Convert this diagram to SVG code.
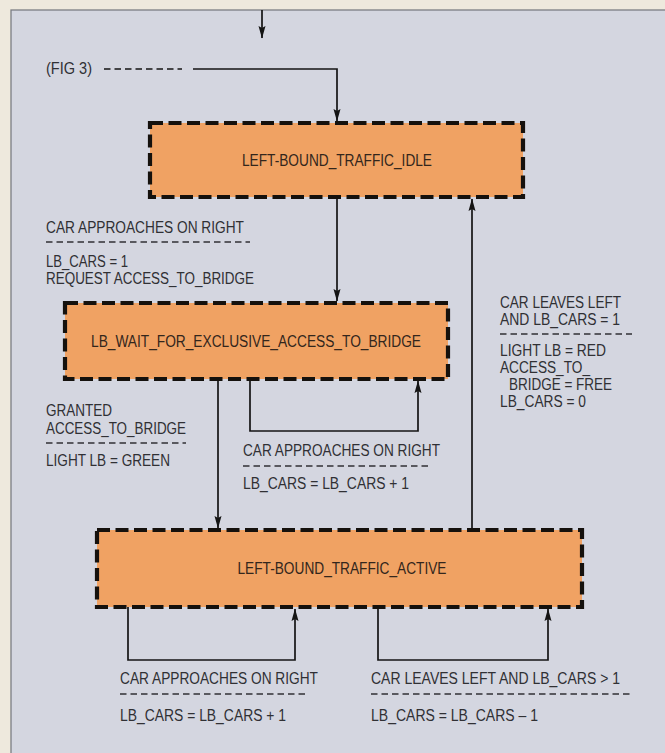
<svg xmlns="http://www.w3.org/2000/svg" width="665" height="753" viewBox="0 0 665 753">
  <defs>
    <marker id="arrow" markerUnits="userSpaceOnUse" markerWidth="13" markerHeight="8" refX="12" refY="4" orient="auto" viewBox="0 0 13 8">
      <path d="M0,0.5 L12.5,4 L0,7.5 L2,4 Z" fill="#141414"/>
    </marker>
    <style>
      .panel { fill: #d4d6e0; stroke: #7c7d84; stroke-width: 1.3; }
      .state { fill: #f0a263; stroke: #15110d; stroke-width: 4.2; stroke-dasharray: 13 5.5; }
      .name { font-family: "Liberation Sans", Arial, sans-serif; font-size: 16px; fill: #33261c; text-anchor: middle; }
      .lbl { font-family: "Liberation Sans", Arial, sans-serif; font-size: 16px; fill: #303034; }
      .sep { stroke: #303034; stroke-width: 1.7; stroke-dasharray: 6.5 4; fill: none; }
      .wire { stroke: #141414; stroke-width: 1.7; fill: none; }
      .arr { marker-end: url(#arrow); }
    </style>
  </defs>

  <!-- page and figure panel -->
  <rect x="0" y="0" width="665" height="753" fill="#eee9dd"/>
  <rect class="panel" x="11" y="10" width="660" height="750"/>

  <!-- transitions -->
  <g id="connectors">
    <path class="wire arr" d="M262,10 V38"/>
    <path class="sep" d="M104,69 H182" style="stroke:#141414"/>
    <path class="wire arr" d="M193,69 H337 V121"/>
    <path class="wire arr" d="M337,197 V301"/>
    <path class="wire arr" d="M218,379 V528"/>
    <path class="wire arr" d="M250,379 V431 H418 V381"/>
    <path class="wire arr" d="M472,530 V199"/>
    <path class="wire arr" d="M128,607 V660 H295 V609"/>
    <path class="wire arr" d="M378,607 V660 H548 V609"/>
  </g>

  <!-- states -->
  <g id="idle">
    <rect class="state" x="150" y="123" width="373" height="74"/>
    <text class="name" x="337" y="166" textLength="190" lengthAdjust="spacingAndGlyphs">LEFT-BOUND_TRAFFIC_IDLE</text>
  </g>
  <g id="wait">
    <rect class="state" x="65" y="303" width="383" height="76"/>
    <text class="name" x="256" y="347" textLength="330" lengthAdjust="spacingAndGlyphs">LB_WAIT_FOR_EXCLUSIVE_ACCESS_TO_BRIDGE</text>
  </g>
  <g id="active">
    <rect class="state" x="97" y="530" width="485" height="77"/>
    <text class="name" x="342" y="574" textLength="209" lengthAdjust="spacingAndGlyphs">LEFT-BOUND_TRAFFIC_ACTIVE</text>
  </g>

  <!-- transition labels: event above the dashed rule, actions below -->
  <g id="fig3-ref">
    <text class="lbl" x="46" y="74" textLength="46" lengthAdjust="spacingAndGlyphs">(FIG 3)</text>
  </g>
  <g id="label-request">
    <text class="lbl" x="46" y="233" textLength="198" lengthAdjust="spacingAndGlyphs">CAR APPROACHES ON RIGHT</text>
    <path class="sep" d="M46,242 H250"/>
    <text class="lbl" x="46" y="267" textLength="82" lengthAdjust="spacingAndGlyphs">LB_CARS = 1</text>
    <text class="lbl" x="46" y="284" textLength="208" lengthAdjust="spacingAndGlyphs">REQUEST ACCESS_TO_BRIDGE</text>
  </g>
  <g id="label-granted">
    <text class="lbl" x="46" y="416" textLength="66" lengthAdjust="spacingAndGlyphs">GRANTED</text>
    <text class="lbl" x="46" y="434" textLength="140" lengthAdjust="spacingAndGlyphs">ACCESS_TO_BRIDGE</text>
    <path class="sep" d="M46,443 H186"/>
    <text class="lbl" x="46" y="466" textLength="124" lengthAdjust="spacingAndGlyphs">LIGHT LB = GREEN</text>
  </g>
  <g id="label-wait-loop">
    <text class="lbl" x="243" y="456" textLength="197" lengthAdjust="spacingAndGlyphs">CAR APPROACHES ON RIGHT</text>
    <path class="sep" d="M243,466 H430"/>
    <text class="lbl" x="243" y="489" textLength="166" lengthAdjust="spacingAndGlyphs">LB_CARS = LB_CARS + 1</text>
  </g>
  <g id="label-release">
    <text class="lbl" x="500" y="308" textLength="121" lengthAdjust="spacingAndGlyphs">CAR LEAVES LEFT</text>
    <text class="lbl" x="500" y="325" textLength="120" lengthAdjust="spacingAndGlyphs">AND LB_CARS = 1</text>
    <path class="sep" d="M500,334 H632"/>
    <text class="lbl" x="500" y="356" textLength="106" lengthAdjust="spacingAndGlyphs">LIGHT LB = RED</text>
    <text class="lbl" x="500" y="373" textLength="90" lengthAdjust="spacingAndGlyphs">ACCESS_TO_</text>
    <text class="lbl" x="509" y="390" textLength="103" lengthAdjust="spacingAndGlyphs">BRIDGE = FREE</text>
    <text class="lbl" x="500" y="407" textLength="86" lengthAdjust="spacingAndGlyphs">LB_CARS = 0</text>
  </g>
  <g id="label-active-approach">
    <text class="lbl" x="120" y="684" textLength="198" lengthAdjust="spacingAndGlyphs">CAR APPROACHES ON RIGHT</text>
    <path class="sep" d="M120,694 H306"/>
    <text class="lbl" x="120" y="721" textLength="166" lengthAdjust="spacingAndGlyphs">LB_CARS = LB_CARS + 1</text>
  </g>
  <g id="label-active-leave">
    <text class="lbl" x="371" y="684" textLength="249" lengthAdjust="spacingAndGlyphs">CAR LEAVES LEFT AND LB_CARS &gt; 1</text>
    <path class="sep" d="M371,694 H631"/>
    <text class="lbl" x="371" y="721" textLength="167" lengthAdjust="spacingAndGlyphs">LB_CARS = LB_CARS – 1</text>
  </g>
</svg>
